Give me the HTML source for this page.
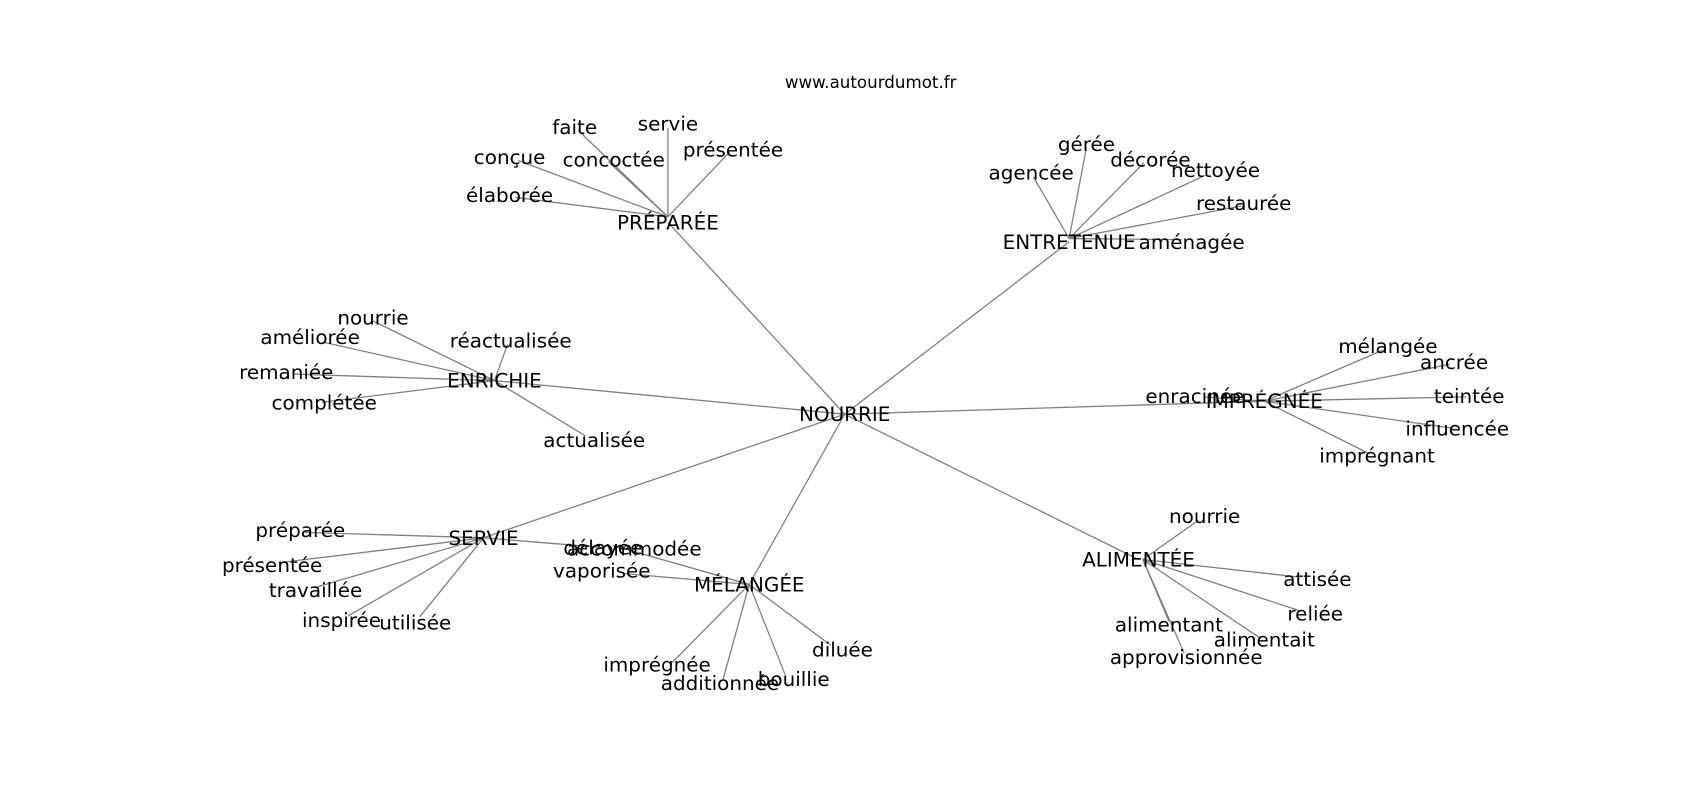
<!DOCTYPE html>
<html><head><meta charset="utf-8"><style>
html,body{margin:0;padding:0;background:#fff;}
svg{display:block;}
text{font-family:"DejaVu Sans","Liberation Sans",sans-serif;font-size:18.4px;fill:#000;text-anchor:middle;dominant-baseline:central;}
line{stroke:#808080;stroke-width:1.2;}
</style></head><body>
<svg width="1700" height="800" viewBox="0 0 1700 800">
<g transform="scale(1.0843)">
<g id="edges">
<line x1="779" y1="382" x2="616" y2="205"/>
<line x1="779" y1="382" x2="986" y2="223"/>
<line x1="779" y1="382" x2="456" y2="351"/>
<line x1="779" y1="382" x2="1166" y2="370"/>
<line x1="779" y1="382" x2="446" y2="496"/>
<line x1="779" y1="382" x2="691" y2="539"/>
<line x1="779" y1="382" x2="1050" y2="516"/>
<line x1="616" y1="200" x2="533" y2="120"/>
<line x1="616" y1="200" x2="616" y2="118"/>
<line x1="616" y1="200" x2="673" y2="140"/>
<line x1="616" y1="200" x2="478" y2="148"/>
<line x1="616" y1="200" x2="561" y2="149"/>
<line x1="616" y1="200" x2="475" y2="182"/>
<line x1="986" y1="220" x2="953" y2="163"/>
<line x1="986" y1="220" x2="1002" y2="136"/>
<line x1="986" y1="220" x2="1055" y2="150"/>
<line x1="986" y1="220" x2="1113" y2="161"/>
<line x1="986" y1="220" x2="1145" y2="190"/>
<line x1="986" y1="220" x2="1090" y2="221"/>
<line x1="456" y1="351" x2="344" y2="296"/>
<line x1="456" y1="351" x2="300" y2="316"/>
<line x1="456" y1="351" x2="270" y2="345"/>
<line x1="456" y1="351" x2="297" y2="371"/>
<line x1="456" y1="351" x2="468" y2="318"/>
<line x1="456" y1="351" x2="540" y2="402"/>
<line x1="1166" y1="370" x2="1275" y2="323"/>
<line x1="1166" y1="370" x2="1337" y2="336"/>
<line x1="1166" y1="370" x2="1352" y2="366"/>
<line x1="1166" y1="370" x2="1340" y2="395"/>
<line x1="1166" y1="370" x2="1262" y2="418"/>
<line x1="1166" y1="370" x2="1110" y2="366"/>
<line x1="446" y1="496" x2="281" y2="491"/>
<line x1="446" y1="496" x2="257" y2="519"/>
<line x1="446" y1="496" x2="290" y2="542"/>
<line x1="446" y1="496" x2="321" y2="568"/>
<line x1="446" y1="496" x2="387" y2="569"/>
<line x1="446" y1="496" x2="556" y2="505"/>
<line x1="691" y1="539" x2="565" y2="503"/>
<line x1="691" y1="539" x2="576" y2="529"/>
<line x1="691" y1="539" x2="620" y2="611"/>
<line x1="691" y1="539" x2="667" y2="626"/>
<line x1="691" y1="539" x2="724" y2="622"/>
<line x1="691" y1="539" x2="766" y2="595"/>
<line x1="1054" y1="516" x2="1105" y2="480"/>
<line x1="1054" y1="516" x2="1196" y2="532"/>
<line x1="1054" y1="516" x2="1198" y2="563"/>
<line x1="1054" y1="516" x2="1163" y2="589"/>
<line x1="1054" y1="516" x2="1078" y2="573"/>
<line x1="1054" y1="516" x2="1092" y2="602"/>
</g>
<text x="803" y="76" style="font-size:15.4px">www.autourdumot.fr</text>
<text x="779" y="382">NOURRIE</text>
<text x="616" y="205">PRÉPARÉE</text>
<text x="530" y="117">faite</text>
<text x="616" y="114">servie</text>
<text x="676" y="138">présentée</text>
<text x="470" y="145">conçue</text>
<text x="566" y="147">concoctée</text>
<text x="470" y="180">élaborée</text>
<text x="986" y="223">ENTRETENUE</text>
<text x="951" y="159">agencée</text>
<text x="1002" y="133">gérée</text>
<text x="1061" y="147">décorée</text>
<text x="1121" y="157">nettoyée</text>
<text x="1147" y="187">restaurée</text>
<text x="1099" y="223">aménagée</text>
<text x="456" y="351">ENRICHIE</text>
<text x="344" y="293">nourrie</text>
<text x="286" y="311">améliorée</text>
<text x="264" y="343">remaniée</text>
<text x="299" y="371">complétée</text>
<text x="471" y="314">réactualisée</text>
<text x="548" y="406">actualisée</text>
<text x="1166" y="370">IMPRÉGNÉE</text>
<text x="1280" y="319">mélangée</text>
<text x="1341" y="334">ancrée</text>
<text x="1355" y="365">teintée</text>
<text x="1344" y="395">influencée</text>
<text x="1270" y="420">imprégnant</text>
<text x="1102" y="365">enracinée</text>
<text x="446" y="496">SERVIE</text>
<text x="277" y="489">préparée</text>
<text x="251" y="521">présentée</text>
<text x="291" y="544">travaillée</text>
<text x="315" y="572">inspirée</text>
<text x="383" y="574">utilisée</text>
<text x="691" y="539">MÉLANGÉE</text>
<text x="556" y="505">délayée</text>
<text x="585" y="506">accommodée</text>
<text x="555" y="526">vaporisée</text>
<text x="606" y="613">imprégnée</text>
<text x="664" y="630">additionnée</text>
<text x="732" y="626">bouillie</text>
<text x="777" y="599">diluée</text>
<text x="1050" y="516">ALIMENTÉE</text>
<text x="1111" y="476">nourrie</text>
<text x="1215" y="534">attisée</text>
<text x="1213" y="566">reliée</text>
<text x="1166" y="590">alimentait</text>
<text x="1078" y="576">alimentant</text>
<text x="1094" y="606">approvisionnée</text>
</g>
</svg>
</body></html>
